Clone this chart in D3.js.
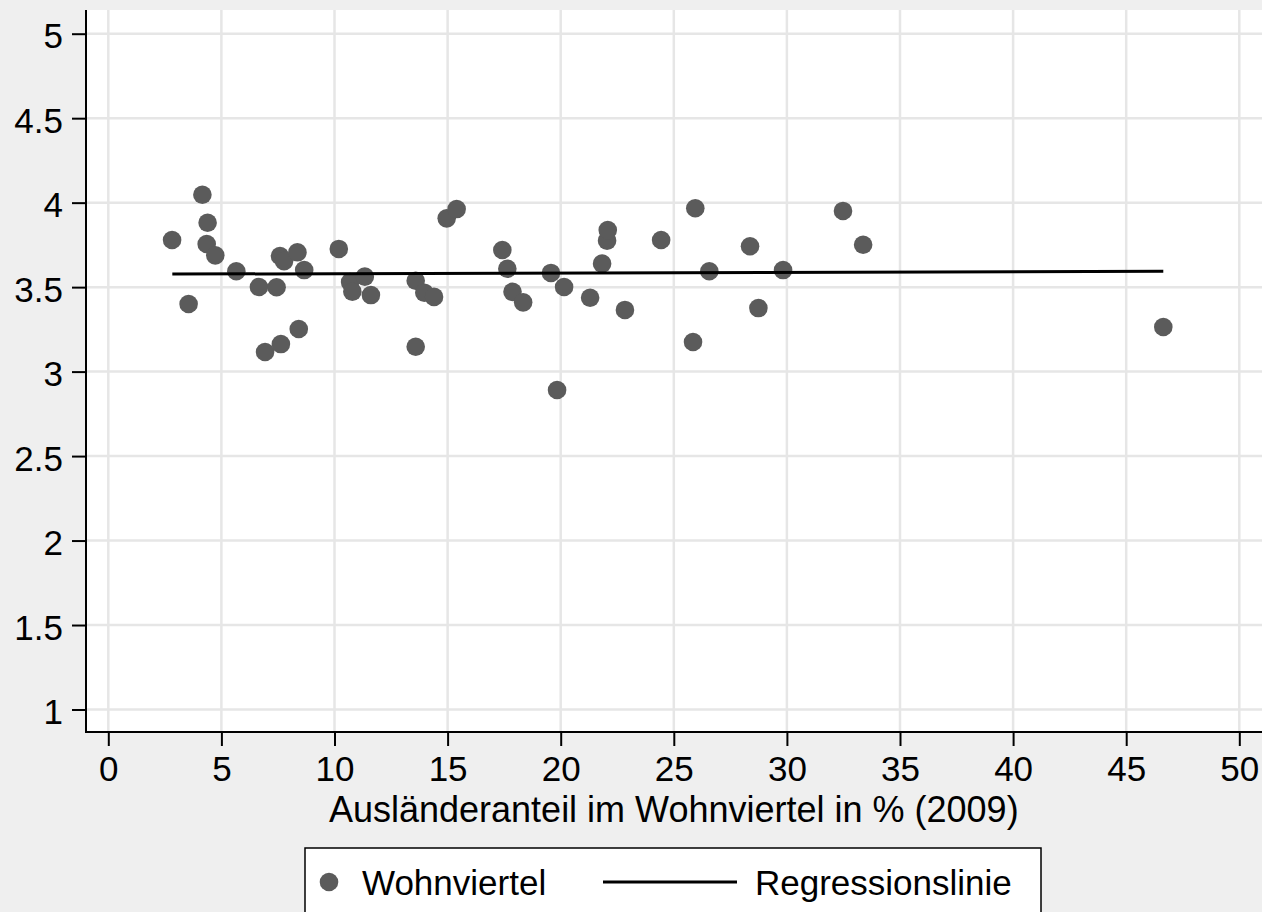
<!DOCTYPE html>
<html>
<head>
<meta charset="utf-8">
<script src="https://cdn.jsdelivr.net/npm/d3@7"></script>
<style>
  html, body { margin: 0; padding: 0; background: #efefef; }
  svg { display: block; font-family: "Liberation Sans", Arial, sans-serif; }
</style>
</head>
<body>
<svg id="chart" width="1262" height="912"></svg>
<script>
// Data
const xVals = [2.82, 3.55, 4.16, 4.39, 4.35, 4.73, 5.66, 6.66, 6.93, 7.44, 7.63, 7.59, 7.77, 8.36, 8.42, 8.66,
  10.19, 10.69, 10.79, 11.34, 11.61, 13.59, 13.59, 13.97, 14.40, 14.96, 15.40, 17.42, 17.64, 17.87, 18.34,
  19.57, 19.84, 20.15, 21.30, 21.83, 22.05, 22.08, 22.84, 24.44, 25.85, 25.95, 26.57, 28.37, 28.74, 29.83,
  32.48, 33.37, 46.64];
const yVals = [3.779, 3.400, 4.047, 3.881, 3.755, 3.688, 3.594, 3.501, 3.116, 3.499, 3.163, 3.684, 3.654, 3.706, 3.252, 3.601,
  3.726, 3.530, 3.473, 3.562, 3.453, 3.538, 3.147, 3.467, 3.442, 3.907, 3.962, 3.720, 3.609, 3.472, 3.410,
  3.584, 2.891, 3.501, 3.437, 3.639, 3.775, 3.838, 3.365, 3.779, 3.175, 3.967, 3.594, 3.742, 3.376, 3.601,
  3.951, 3.751, 3.264];
const regX = [2.83, 46.64];
const regY = [3.577, 3.594];
const xTicks = [0, 5, 10, 15, 20, 25, 30, 35, 40, 45, 50];
const yTicks = [1, 1.5, 2, 2.5, 3, 3.5, 4, 4.5, 5];
const yTickLabels = ["1", "1.5", "2", "2.5", "3", "3.5", "4", "4.5", "5"];
const xTitle = "Ausländeranteil im Wohnviertel in % (2009)";
const legendLabels = ["Wohnviertel", "Regressionslinie"];

const svg = d3.select("#chart");
const W = 1262, H = 912;
const plotL = 86, plotT = 10, plotR = 1262, plotB = 732;

const x = d3.scaleLinear().domain([0, 50]).range([108.3, 1239.3]);
const y = d3.scaleLinear().domain([1, 5]).range([709.5, 33.7]);

const fontSize = 35;
const markerColor = "#5b5b5b";

// background
svg.append("rect").attr("x", 0).attr("y", 0).attr("width", W).attr("height", H).attr("fill", "#efefef");
svg.append("rect").attr("x", plotL).attr("y", plotT).attr("width", plotR - plotL).attr("height", plotB - plotT).attr("fill", "#ffffff");

// gridlines
const grid = svg.append("g");
grid.selectAll("line.gx").data(xTicks).join("line")
  .attr("x1", d => x(d)).attr("x2", d => x(d))
  .attr("y1", plotT).attr("y2", plotB)
  .attr("stroke", "#e6e6e6").attr("stroke-width", 2.5);
grid.selectAll("line.gy").data(yTicks).join("line")
  .attr("x1", plotL).attr("x2", plotR)
  .attr("y1", d => y(d)).attr("y2", d => y(d))
  .attr("stroke", "#e6e6e6").attr("stroke-width", 2.5);

// axes
const xAxis = d3.axisBottom(x).tickValues(xTicks).tickSize(14).tickPadding(10).tickFormat(d3.format("d"));
const yAxis = d3.axisLeft(y).tickValues(yTicks).tickSize(14).tickPadding(9).tickFormat((d, i) => yTickLabels[i]);

const gx = svg.append("g").attr("transform", `translate(0,${plotB})`).call(xAxis);
gx.select(".domain").remove();
gx.selectAll(".tick line").attr("stroke", "#000").attr("stroke-width", 2);
gx.selectAll(".tick text").attr("font-size", fontSize).attr("fill", "#000")
  .attr("font-family", '"Liberation Sans", Arial, sans-serif');

const gy = svg.append("g").attr("transform", `translate(${plotL},0)`).call(yAxis);
gy.select(".domain").remove();
gy.selectAll(".tick line").attr("stroke", "#000").attr("stroke-width", 2);
gy.selectAll(".tick text").attr("font-size", fontSize).attr("fill", "#000")
  .attr("font-family", '"Liberation Sans", Arial, sans-serif').attr("dy", "0.4em");

// axis lines
svg.append("line").attr("x1", plotL).attr("x2", plotL).attr("y1", plotT).attr("y2", plotB + 1)
  .attr("stroke", "#000").attr("stroke-width", 2);
svg.append("line").attr("x1", plotL - 1).attr("x2", plotR).attr("y1", plotB).attr("y2", plotB)
  .attr("stroke", "#000").attr("stroke-width", 2);

// points
const pts = xVals.map((v, i) => ({ x: v, y: yVals[i] }));
svg.append("g").selectAll("circle").data(pts).join("circle")
  .attr("cx", d => x(d.x)).attr("cy", d => y(d.y)).attr("r", 9.3)
  .attr("fill", markerColor);

// regression line
const regData = regX.map((v, i) => ({ x: v, y: regY[i] }));
svg.append("path").datum(regData)
  .attr("d", d3.line().x(d => x(d.x)).y(d => y(d.y)))
  .attr("stroke", "#000").attr("stroke-width", 3).attr("fill", "none");

// x title
svg.append("text").attr("x", (x(0) + x(50)) / 2).attr("y", 822)
  .attr("text-anchor", "middle").attr("font-size", 36).attr("fill", "#000")
  .text(xTitle);

// legend
const lg = svg.append("g");
lg.append("rect").attr("x", 305).attr("y", 848).attr("width", 736).attr("height", 90)
  .attr("fill", "#ffffff").attr("stroke", "#000").attr("stroke-width", 1.5);
lg.append("circle").attr("cx", 329).attr("cy", 882).attr("r", 9.3).attr("fill", markerColor);
lg.append("text").attr("x", 362).attr("y", 895).attr("font-size", 35).attr("fill", "#000").text(legendLabels[0]);
lg.append("line").attr("x1", 603).attr("x2", 737).attr("y1", 882).attr("y2", 882)
  .attr("stroke", "#000").attr("stroke-width", 3);
lg.append("text").attr("x", 755).attr("y", 895).attr("font-size", 35).attr("fill", "#000").text(legendLabels[1]);
</script>
</body>
</html>
